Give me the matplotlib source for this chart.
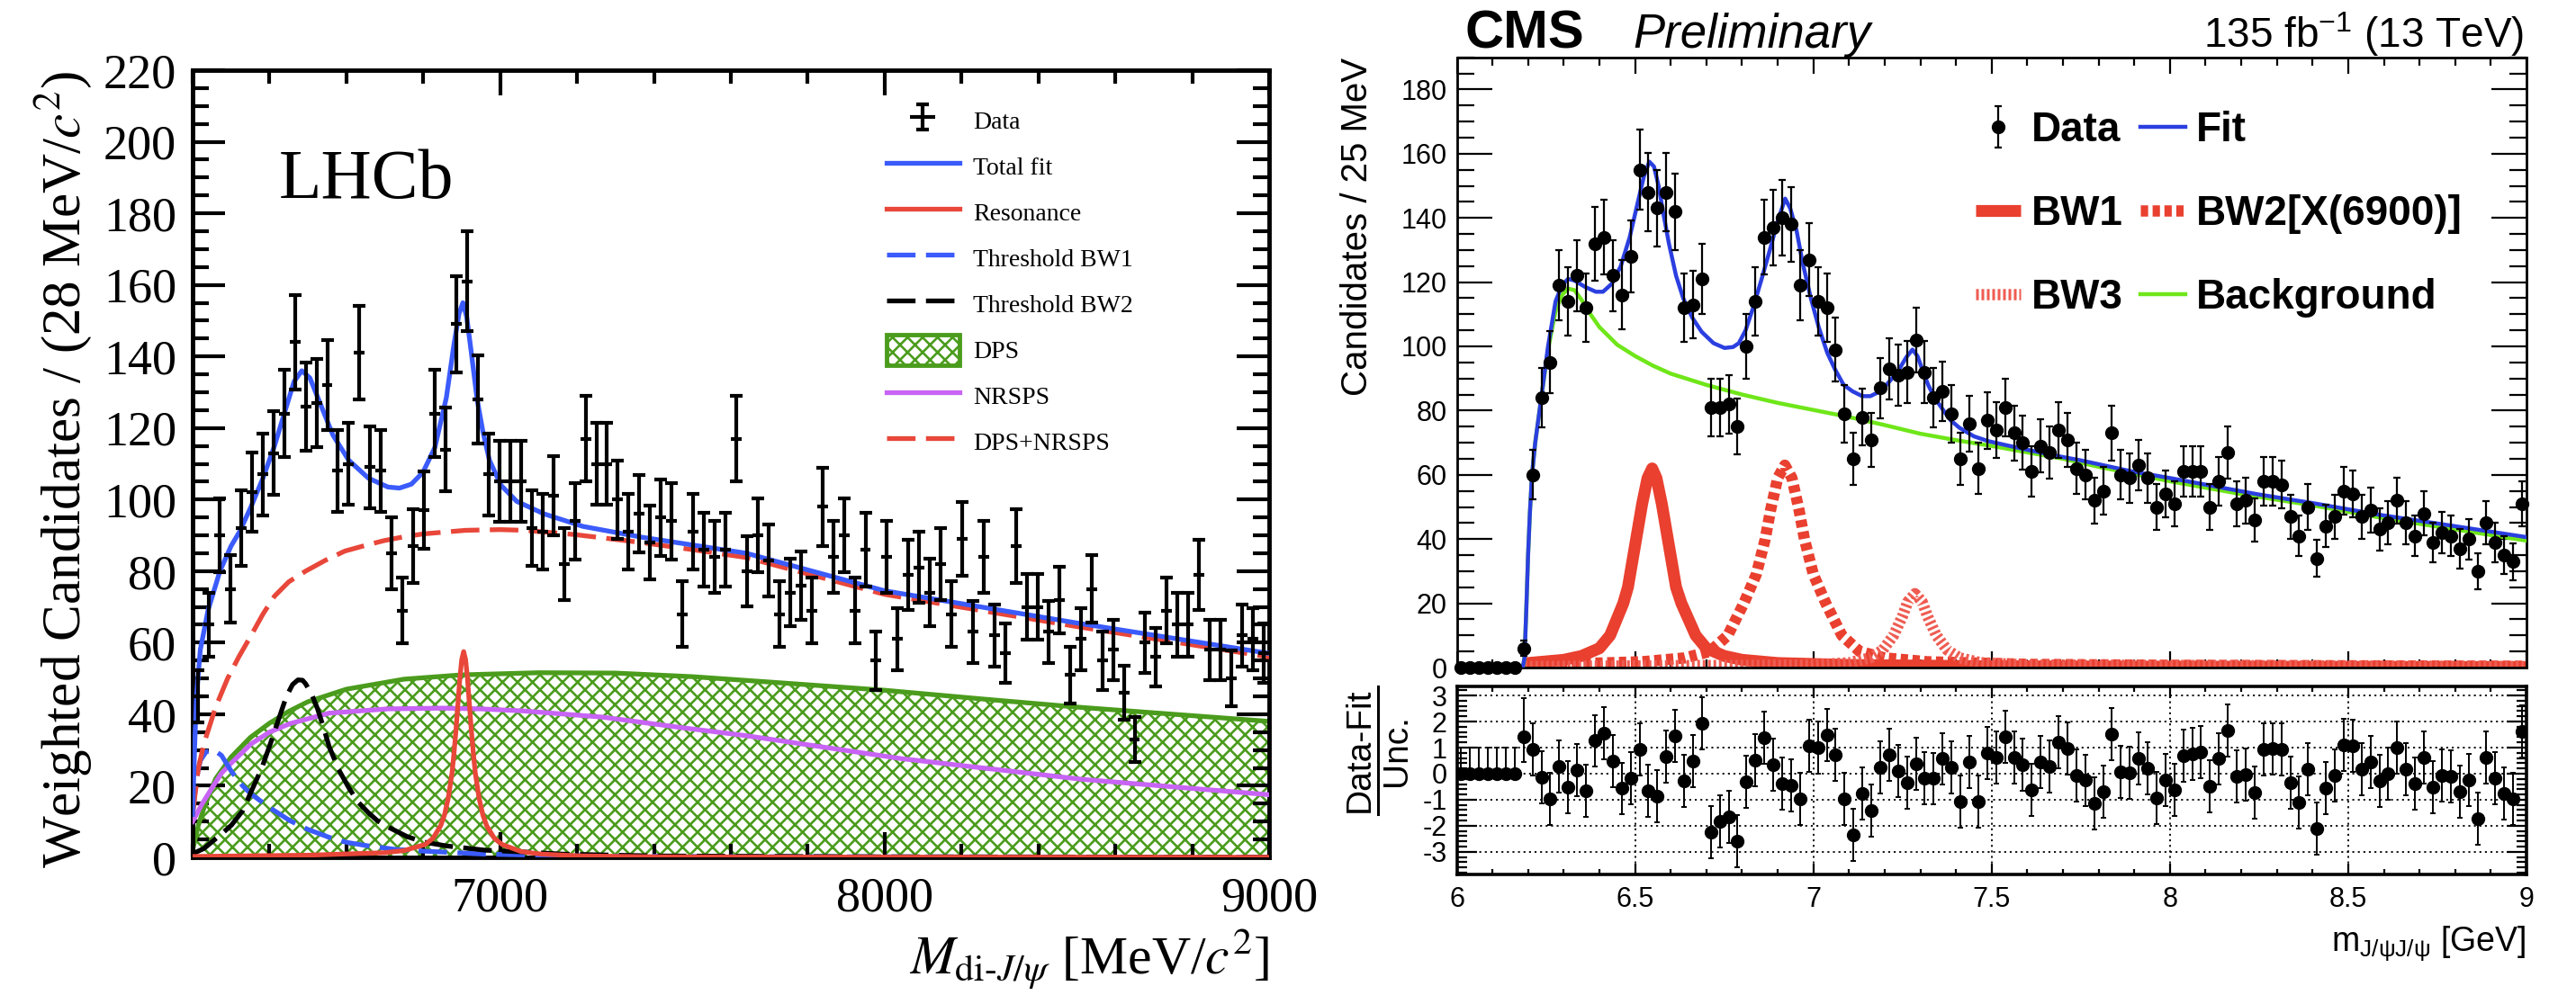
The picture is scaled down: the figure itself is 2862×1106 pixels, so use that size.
import numpy as np
import matplotlib
matplotlib.use('Agg')
import matplotlib.pyplot as plt
from matplotlib.ticker import MultipleLocator, FixedLocator, FuncFormatter
from matplotlib.lines import Line2D
from matplotlib.patches import Patch
from matplotlib.font_manager import FontProperties

plt.rcParams['font.family'] = ['Liberation Sans', 'DejaVu Sans']
plt.rcParams['mathtext.fontset'] = 'custom'
plt.rcParams['mathtext.rm'] = 'Liberation Sans'
plt.rcParams['mathtext.it'] = 'Liberation Sans:italic'
plt.rcParams['mathtext.bf'] = 'Liberation Sans:bold'
plt.rcParams['hatch.linewidth'] = 1.9

W, H = 2862, 1106

# ---------------- LHCb data (28 MeV bins from 6200) ----------------
lhcb_lo, lhcb_bw = 6200, 28
lhcb_counts = [45, 65, 90, 75, 92, 102, 107, 113, 124, 144,
               126, 127, 132, 108, 110, 141, 109, 108, 85, 69,
               87, 97, 124, 114, 149, 161, 128, 107, 105, 105,
               105, 92, 91, 101, 82, 94, 117, 110, 110, 100,
               91, 96, 88, 95, 94, 68, 91, 86, 84, 86,
               117, 80, 90, 83, 68, 74, 76, 69, 98, 84,
               90, 69, 86, 55, 84, 61, 79, 81, 74, 82,
               68, 89, 63, 84, 62, 57, 87, 70, 70, 63,
               72, 51, 61, 75, 55, 58, 46, 33, 60, 56,
               69, 65, 65, 79, 58, 58, 50, 62, 61, 57]
lhcb_err = [7.4, 8.9, 10.4, 9.5, 10.6, 11.1, 11.4, 11.7, 12.2, 13.2,
            12.3, 12.4, 12.6, 11.4, 11.5, 13.1, 11.5, 11.4, 10.1, 9.1,
            10.3, 10.8, 12.2, 11.7, 13.4, 14.0, 12.4, 11.4, 11.3, 11.3,
            11.3, 10.6, 10.5, 11.1, 10.0, 10.7, 11.9, 11.5, 11.5, 11.0,
            10.5, 10.8, 10.3, 10.7, 10.7, 9.1, 10.5, 10.2, 10.1, 10.2,
            11.9, 9.8, 10.4, 10.0, 9.1, 9.5, 9.6, 9.1, 10.9, 10.1,
            10.4, 9.1, 10.2, 8.2, 10.1, 8.6, 9.8, 9.9, 9.5, 10.0,
            9.1, 10.4, 8.7, 10.1, 8.7, 8.3, 10.3, 9.2, 9.2, 8.7,
            9.3, 7.9, 8.6, 9.5, 8.2, 8.4, 7.5, 6.3, 8.5, 8.2,
            9.1, 8.9, 8.9, 9.8, 8.4, 8.4, 7.8, 8.7, 8.6, 8.3]

# LHCb fit components
tot_m = [6200, 6205, 6210, 6220, 6240, 6271, 6300, 6322, 6352, 6383, 6413, 6444, 6464, 6484,
         6505, 6535, 6565, 6606, 6657, 6708, 6738, 6769, 6799, 6830, 6860, 6880, 6893, 6903,
         6913, 6925, 6940, 6955, 6972, 7002, 7043, 7114, 7215, 7367, 7500, 7640, 8000, 8500, 9000]
tot_v = [12, 30, 45, 58, 69, 80, 87, 91, 98, 106, 115, 126, 133, 136,
         134, 126, 118, 111, 106, 103.5, 103.2, 104.3, 107.6, 114.5, 128.5, 143.5, 152, 155,
         151, 141, 128, 119, 111, 104, 99.5, 96, 92.5, 89.5, 87.3, 85, 74.5, 65.5, 57]
res_m = [6200, 6500, 6700, 6750, 6805, 6825, 6845, 6855, 6865, 6875, 6880, 6885, 6890, 6895,
         6900, 6905, 6910, 6915, 6920, 6925, 6930, 6935, 6945, 6955, 6965, 6985, 7005, 7055,
         7105, 7205, 7405, 7800, 9000]
res_v = [0.25, 0.6, 1.3, 1.9, 3.6, 5.3, 8.8, 11.8, 16.6, 23.8, 29.3, 35.5, 42.7, 49.9,
         55.3, 57.5, 55.3, 49.9, 42.7, 35.5, 29.3, 23.8, 16.6, 11.8, 8.8, 5.3, 3.6, 1.6,
         0.93, 0.41, 0.15, 0.08, 0.03]
bw1_m = [6200, 6210, 6220, 6235, 6255, 6275, 6301, 6330, 6352, 6403, 6454, 6500, 6555, 6600,
         6657, 6730, 6809, 6961, 7200, 7600, 9000]
bw1_v = [12, 22, 27, 29.5, 30, 28.5, 24, 20, 17.7, 13.7, 10.2, 7.8, 5.6, 4.2,
         3.2, 2.2, 1.7, 0.9, 0.4, 0.2, 0.05]
bw2_m = [6200, 6230, 6251, 6275, 6301, 6330, 6352, 6380, 6403, 6425, 6444, 6460, 6474, 6486,
         6494, 6510, 6525, 6540, 6555, 6580, 6606, 6630, 6657, 6680, 6708, 6758, 6800, 6860,
         6961, 7063, 7164, 7400, 8000, 9000]
bw2_v = [1, 2.5, 4.4, 6.5, 9, 13, 18.3, 25, 32, 39, 45, 48.3, 49.6, 49.5,
         48.5, 45.5, 41.5, 36.5, 31, 24.5, 19.5, 15.5, 12.5, 10.3, 8.5, 5.8, 4.3, 3.2,
         2, 1.5, 0.9, 0.4, 0.15, 0.05]
dps_m = [6200, 6215, 6230, 6260, 6300, 6350, 6400, 6450, 6500, 6600, 6750, 6900, 7100, 7300,
         7500, 7700, 8000, 8250, 8500, 8750, 9000]
dps_v = [2, 9, 14, 22, 28, 33.5, 37.5, 40.8, 43.5, 47, 49.8, 51, 51.6, 51.5,
         50.5, 49, 46.7, 44.3, 42, 40, 38]
nrsps_m = [6200, 6225, 6251, 6275, 6301, 6352, 6400, 6454, 6555, 6708, 6850, 6950, 7063, 7266,
           7469, 7640, 8043, 8514, 9000]
nrsps_v = [10, 15, 19.5, 23.5, 26.4, 31.7, 35, 37.4, 40.3, 41.5, 41.7, 41.5, 40.9, 39.2,
           36.3, 34, 27.6, 21.8, 17.5]
sum_m = [6200, 6215, 6230, 6260, 6291, 6320, 6352, 6383, 6413, 6450, 6494, 6545, 6596, 6650,
         6697, 6750, 6800, 6910, 7000, 7063, 7195, 7367, 7500, 7640, 8000, 8500, 9000]
sum_v = [12, 25, 32, 42, 50, 56, 62, 68, 73, 77, 80, 83, 85.6, 87.2,
         88.5, 89.6, 90.4, 91.4, 91.6, 91.4, 90.2, 88, 86, 83.8, 73.5, 64.5, 56]

# ---------------- CMS data (25 MeV bins from 6.0 GeV) ----------------
cms_lo, cms_bw = 6.0, 0.025
cms_counts = [0, 0, 0, 0, 0, 0, 0, 6, 60, 84,
              95, 119, 114, 122, 112, 132, 134, 122, 116, 128,
              155, 148, 143, 148, 142, 112, 113, 121, 81, 81,
              82, 75, 100, 114, 134, 137, 140, 138, 119, 127,
              114, 112, 99, 79, 65, 78, 71, 87, 93, 91,
              92, 102, 92, 84, 86, 79, 65, 76, 62, 77,
              74, 81, 73, 70, 61, 69, 67, 74, 71, 62,
              60, 52, 55, 73, 60, 59, 63, 59, 50, 54,
              51, 61, 61, 61, 50, 58, 67, 51, 52, 46,
              58, 58, 57, 47, 41, 50, 34, 44, 47, 55,
              54, 47, 49, 43, 45, 52, 45, 41, 48, 39,
              42, 41, 37, 40, 30, 45, 39, 35, 33, 51]
cms_err = [0, 0, 0, 0, 0, 0, 0, 2.4, 7.7, 9.2,
           9.7, 10.9, 10.7, 11.0, 10.6, 11.5, 11.6, 11.0, 10.8, 11.3,
           12.4, 12.2, 12.0, 12.2, 11.9, 10.6, 10.6, 11.0, 9.0, 9.0,
           9.1, 8.7, 10.0, 10.7, 11.6, 11.7, 11.8, 11.7, 10.9, 11.3,
           10.7, 10.6, 9.9, 8.9, 8.1, 8.8, 8.4, 9.3, 9.6, 9.5,
           9.6, 10.1, 9.6, 9.2, 9.3, 8.9, 8.1, 8.7, 7.9, 8.8,
           8.6, 9.0, 8.5, 8.4, 7.8, 8.3, 8.2, 8.6, 8.4, 7.9,
           7.7, 7.2, 7.4, 8.5, 7.7, 7.7, 7.9, 7.7, 7.1, 7.3,
           7.1, 7.8, 7.8, 7.8, 7.1, 7.6, 8.2, 7.1, 7.2, 6.8,
           7.6, 7.6, 7.5, 6.9, 6.4, 7.1, 5.8, 6.6, 6.9, 7.4,
           7.3, 6.9, 7.0, 6.6, 6.7, 7.2, 6.7, 6.4, 6.9, 6.2,
           6.5, 6.4, 6.1, 6.3, 5.5, 6.7, 6.2, 5.9, 5.7, 7.1]
cms_pull = [0, 0, 0, 0, 0, 0, 0, 1.41, 0.92, -0.15,
            -0.97, 0.29, -0.52, 0.14, -0.67, 1.26, 1.55, 0.49, -0.57, -0.17,
            0.92, -0.65, -0.86, 0.67, 1.46, -0.29, 0.48, 1.93, -2.24, -1.84,
            -1.66, -2.58, -0.31, 0.52, 1.38, 0.34, -0.39, -0.44, -0.97, 1.06,
            1.00, 1.49, 0.71, -0.97, -2.35, -0.75, -1.41, 0.25, 0.71, 0.11,
            -0.34, 0.37, -0.16, -0.19, 0.57, 0.25, -1.06, 0.46, -1.06, 0.80,
            0.63, 1.43, 0.63, 0.34, -0.61, 0.46, 0.29, 1.20, 0.97, -0.06,
            -0.26, -1.15, -0.69, 1.51, 0.06, 0.02, 0.60, 0.21, -0.92, -0.23,
            -0.63, 0.69, 0.77, 0.84, -0.49, 0.57, 1.66, -0.11, -0.03, -0.72,
            0.92, 0.95, 0.92, -0.34, -1.11, 0.17, -2.12, -0.54, -0.06, 1.09,
            1.06, 0.17, 0.46, -0.29, 0.00, 1.01, 0.17, -0.38, 0.63, -0.52,
            -0.06, -0.11, -0.69, -0.23, -1.72, 0.63, -0.17, -0.75, -0.97, 1.61]
pull_err_lo = [0] * 7 + [0.95] + [1.0] * 112
pull_err_hi = [1.0] * 7 + [1.5] + [1.0] * 112

fit_m = [6.0, 6.185, 6.19, 6.195, 6.20, 6.205, 6.211, 6.22, 6.237, 6.256, 6.277, 6.295, 6.312,
         6.33, 6.36, 6.39, 6.41, 6.435, 6.46, 6.485, 6.508, 6.525, 6.54, 6.553, 6.566, 6.58,
         6.595, 6.615, 6.635, 6.66, 6.687, 6.72, 6.751, 6.775, 6.791, 6.81, 6.831, 6.855,
         6.878, 6.90, 6.921, 6.935, 6.953, 6.97, 6.993, 7.015, 7.039, 7.06, 7.085, 7.11,
         7.137, 7.16, 7.178, 7.205, 7.236, 7.26, 7.278, 7.292, 7.305, 7.322, 7.34, 7.362,
         7.385, 7.409, 7.45, 7.49, 7.55, 7.664, 7.75, 7.896, 8.0, 8.243, 8.4, 8.591, 8.8, 9.0]
fit_v = [0, 0, 3, 18, 35, 48, 60, 70, 84, 100, 114, 119, 121,
         120.5, 118.5, 117, 117, 119.5, 125, 134, 145, 153, 157.5, 156, 150, 141,
         132, 122, 115, 109, 104.5, 101, 99.5, 99.8, 101, 105, 112, 121,
         130, 139, 146, 143, 136, 126, 115, 106, 98, 93, 88, 86,
         84.5, 84.5, 85.5, 88, 92, 96.5, 99, 97, 93, 88, 84, 80.5,
         77, 74.7, 72, 70.5, 69, 66.3, 64.5, 61, 59, 54, 51.2, 47.5, 44, 40.6]
bkg_m = [6.0, 6.185, 6.19, 6.195, 6.20, 6.205, 6.211, 6.22, 6.237, 6.256, 6.277, 6.295, 6.312,
         6.33, 6.35, 6.375, 6.40, 6.45, 6.50, 6.55, 6.60, 6.70, 6.80, 6.90, 7.0, 7.1, 7.2,
         7.3, 7.4, 7.5, 7.6, 7.7, 7.8, 8.0, 8.2, 8.4, 8.6, 8.8, 9.0]
bkg_v = [0, 0, 3, 18, 35, 48, 60, 70, 84, 99, 111, 116, 118,
         117.5, 114.5, 110, 106, 100.5, 97, 94, 91.5, 88, 85, 82.4, 80.2, 78, 75.5,
         72.8, 70.8, 69, 67, 65, 62.5, 58, 54, 50.5, 46.5, 43, 39.5]
bw1c_m = [6.19, 6.30, 6.35, 6.40, 6.43, 6.467, 6.48, 6.50, 6.52, 6.535, 6.548, 6.56, 6.575,
          6.595, 6.615, 6.63, 6.67, 6.70, 6.75, 6.80, 6.90, 7.1, 7.5, 8.0, 9.0]
bw1c_v = [1.3, 2.4, 3.6, 6.0, 10, 20, 25, 38, 51, 59, 62, 59, 51,
          38, 25, 20, 10, 6.0, 3.6, 2.4, 1.4, 0.8, 0.4, 0.25, 0.15]
bw2c_m = [6.19, 6.40, 6.52, 6.64, 6.71, 6.76, 6.805, 6.84, 6.865, 6.88, 6.90, 6.92, 6.94,
          6.96, 6.975, 7.0, 7.035, 7.08, 7.13, 7.2, 7.32, 7.6, 8.0, 9.0]
bw2c_v = [1.0, 1.4, 1.8, 3.0, 5.0, 10, 20, 29, 40, 49, 59, 63, 59,
          49, 40, 29, 20, 10, 5, 3, 1.8, 1.0, 0.7, 0.4]
bw3c_m = [6.19, 7.0, 7.10, 7.16, 7.195, 7.225, 7.25, 7.265, 7.285, 7.305, 7.32, 7.345, 7.375,
          7.41, 7.47, 7.6, 9.0]
bw3c_v = [0.3, 0.8, 1.5, 3, 5.5, 10, 16, 20.5, 23, 20.5, 16, 10, 5.5,
          3, 1.5, 0.8, 0.3]

# ---------------- style ----------------
L_BLUE, L_RED, L_GREEN, L_VIOLET = '#3b5bfb', '#e8473a', '#4b9c1d', '#c864f5'
C_BLUE, C_GREEN, C_RED, C_RED3 = '#2b3fe0', '#6fe619', '#e9402f', '#ef5c52'
SERIF = ['Liberation Serif', 'DejaVu Serif']
SANS = ['Liberation Sans', 'DejaVu Sans']
LW = 3.8

fig = plt.figure(figsize=(W / 100, H / 100), dpi=100)

# ================= LHCb panel =================
axL = fig.add_axes([214 / W, 1 - 953 / H, 1196 / W, 875 / H])
axL.set_xlim(6200, 9000)
axL.set_ylim(0, 220)

lx = lhcb_lo + lhcb_bw / 2 + lhcb_bw * np.arange(len(lhcb_counts))

axL.fill_between(dps_m, 0, dps_v, facecolor='white', edgecolor=L_GREEN, hatch='xx',
                 linewidth=0, zorder=1)
axL.plot(dps_m, dps_v, color=L_GREEN, lw=LW, zorder=2)
p_dps = Patch(facecolor='white', edgecolor=L_GREEN, hatch='xx', lw=3.5)
l_nr, = axL.plot(nrsps_m, nrsps_v, color=L_VIOLET, lw=LW, zorder=3)
l_bw1, = axL.plot(bw1_m, bw1_v, color=L_BLUE, lw=LW, dashes=(6, 2.2), zorder=3)
l_bw2, = axL.plot(bw2_m, bw2_v, color='black', lw=LW, dashes=(6, 2.2), zorder=3)
l_res, = axL.plot(res_m, res_v, color=L_RED, lw=LW, zorder=4)
l_sum, = axL.plot(sum_m, sum_v, color=L_RED, lw=LW, dashes=(6, 2.2), zorder=4)
l_tot, = axL.plot(tot_m, tot_v, color=L_BLUE, lw=LW, zorder=5)

eb_l = axL.errorbar(lx, lhcb_counts, xerr=lhcb_bw / 2, yerr=lhcb_err, fmt='none',
                    ecolor='black', elinewidth=3.0, capsize=0, zorder=6)
eb_caps = axL.errorbar(lx, lhcb_counts, yerr=lhcb_err, fmt='none', ecolor='black',
                       elinewidth=0, capsize=4.7, capthick=3.0, zorder=6)

axL.xaxis.set_major_locator(FixedLocator([7000, 8000, 9000]))
axL.xaxis.set_minor_locator(MultipleLocator(200))
axL.yaxis.set_major_locator(MultipleLocator(20))
axL.yaxis.set_minor_locator(MultipleLocator(5))
axL.tick_params(which='both', direction='in', top=True, right=True, width=3,
                labelsize=39, labelfontfamily='Liberation Serif')
axL.tick_params(axis='y', which='major', length=26, pad=13)
axL.tick_params(axis='y', which='minor', length=13)
axL.tick_params(axis='x', which='major', length=20, pad=15)
axL.tick_params(axis='x', which='minor', length=11)
for s in axL.spines.values():
    s.set_linewidth(3.5)

fig.text(310 / W, 1 - 220 / H, 'LHCb', fontsize=56, family=SERIF, va='baseline', ha='left')
fig.text(70 / W, 1 - 522 / H, r'Weighted Candidates / (28 MeV/$c^2$)', rotation=90,
         fontsize=44, family=SERIF, math_fontfamily='stix', ha='center', va='center')
fig.text(1410 / W, 1 - 1082 / H, r'$M_{\mathrm{di}\text{-}J/\psi}$ [MeV/$c^2$]', fontsize=43,
         family=SERIF, math_fontfamily='stix', ha='right', va='baseline')

legL = axL.legend([(eb_l, eb_caps), l_tot, l_res, l_bw1, l_bw2, p_dps, l_nr, l_sum],
                  ['Data', 'Total fit', 'Resonance', 'Threshold BW1', 'Threshold BW2',
                   'DPS', 'NRSPS', 'DPS+NRSPS'],
                  loc='upper left', bbox_to_anchor=(985 / W, 1 - 117 / H),
                  bbox_transform=fig.transFigure, frameon=False,
                  prop=FontProperties(family=SERIF, size=20),
                  handlelength=2.9, handleheight=1.48, handletextpad=0.55,
                  labelspacing=0.63, borderpad=0, borderaxespad=0)

# ================= CMS top panel =================
axT = fig.add_axes([1618.5 / W, 1 - 742 / H, 1188.5 / W, 678.3 / H])
axT.set_xlim(6, 9)
axT.set_ylim(0, 190)
cx = cms_lo + cms_bw / 2 + cms_bw * np.arange(len(cms_counts))

l_c_bw1, = axT.plot(bw1c_m, bw1c_v, color=C_RED, lw=9.5, solid_capstyle='butt', zorder=2)
l_c_bw2, = axT.plot(bw2c_m, bw2c_v, color=C_RED, lw=9, dashes=(0.65, 0.4),
                    dash_capstyle='butt', zorder=2)
l_c_bw3, = axT.plot(bw3c_m, bw3c_v, color=C_RED3, lw=9, dashes=(0.24, 0.24),
                    dash_capstyle='butt', zorder=2)
l_c_bkg, = axT.plot(bkg_m, bkg_v, color=C_GREEN, lw=3.2, zorder=3)
l_c_fit, = axT.plot(fit_m, fit_v, color=C_BLUE, lw=3.2, zorder=4)
eb_c = axT.errorbar(cx, cms_counts, yerr=cms_err, fmt='o', color='black', ms=10,
                    elinewidth=1.6, capsize=3, capthick=1.6, zorder=6)
eb_c[0].set_clip_on(False)

axT.xaxis.set_major_locator(MultipleLocator(0.5))
axT.xaxis.set_minor_locator(MultipleLocator(0.1))
axT.yaxis.set_major_locator(MultipleLocator(20))
axT.yaxis.set_minor_locator(MultipleLocator(5))
axT.tick_params(which='both', direction='in', top=True, right=True, width=1.6,
                labelsize=22, labelbottom=False)
axT.tick_params(axis='y', which='major', length=28, pad=8)
axT.tick_params(axis='y', which='minor', length=14)
axT.tick_params(axis='x', which='major', length=13)
axT.tick_params(axis='x', which='minor', length=6.5)
for s in axT.spines.values():
    s.set_linewidth(2)

fig.text(1508 / W, 1 - 64 / H, 'Candidates / 25 MeV', rotation=90, fontsize=29,
         ha='center', va='top')
fig.text(1627 / W, 1 - 53 / H, 'CMS', fontsize=43, weight='bold', va='baseline', ha='left')
fig.text(1814 / W, 1 - 53 / H, 'Preliminary', fontsize=38, style='italic', va='baseline',
         ha='left')
fig.text(2804 / W, 1 - 53 / H, r'135 fb$^{\mathregular{-1}}$ (13 TeV)', fontsize=33,
         va='baseline', ha='right')

legC = axT.legend([eb_c, l_c_bw1, l_c_bw3, l_c_fit, l_c_bw2, l_c_bkg],
                  ['Data', 'BW1', 'BW3', 'Fit', 'BW2[X(6900)]', 'Background'],
                  ncol=2, loc='upper left', bbox_to_anchor=(2195 / W, 1 - 123 / H),
                  bbox_transform=fig.transFigure, frameon=False,
                  prop=FontProperties(family=SANS, weight='bold', size=33),
                  handlelength=1.09, handletextpad=0.27, columnspacing=0.41,
                  labelspacing=1.065, borderpad=0, borderaxespad=0)

# ================= CMS residual panel =================
axR = fig.add_axes([1618.5 / W, 1 - 972 / H, 1188.5 / W, 209 / H])
axR.set_xlim(6, 9)
axR.set_ylim(-3.87, 3.35)
axR.grid(True, which='major', axis='both', ls=(0, (1.2, 2.2)), color='black', lw=1.3)
axR.errorbar(cx, cms_pull, yerr=[pull_err_lo, pull_err_hi], fmt='o', color='black', ms=10,
             elinewidth=1.4, capsize=2.5, capthick=1.4, zorder=5)
axR.xaxis.set_major_locator(MultipleLocator(0.5))
axR.xaxis.set_minor_locator(MultipleLocator(0.1))
axR.yaxis.set_major_locator(MultipleLocator(1))
axR.yaxis.set_minor_locator(MultipleLocator(0.2))
axR.xaxis.set_major_formatter(FuncFormatter(lambda v, p: f'{v:g}'))
axR.yaxis.set_major_formatter(FuncFormatter(lambda v, p: f'{v:g}'))
axR.tick_params(which='both', direction='in', top=True, right=True, width=1.6, labelsize=22)
axR.tick_params(axis='y', which='major', length=16, pad=8)
axR.tick_params(axis='y', which='minor', length=8)
axR.tick_params(axis='x', which='major', length=9, pad=9)
axR.tick_params(axis='x', which='minor', length=4.5)
for s in axR.spines.values():
    s.set_linewidth(2.6)

fig.text(1511 / W, 1 - 834 / H, 'Data-Fit', rotation=90, fontsize=28, ha='center',
         va='center')
fig.text(1552 / W, 1 - 834 / H, 'Unc.', rotation=90, fontsize=28, ha='center', va='center')
fig.add_artist(Line2D([1531 / W, 1531 / W], [1 - 763 / H, 1 - 905 / H], color='black',
                      lw=2.2, transform=fig.transFigure))
fig.text(2807 / W, 1 - 1057 / H, r'm$_{\mathregular{J/ψJ/ψ}}$ [GeV]', fontsize=27,
         ha='right', va='baseline')

fig.savefig('out.png', dpi=100)
